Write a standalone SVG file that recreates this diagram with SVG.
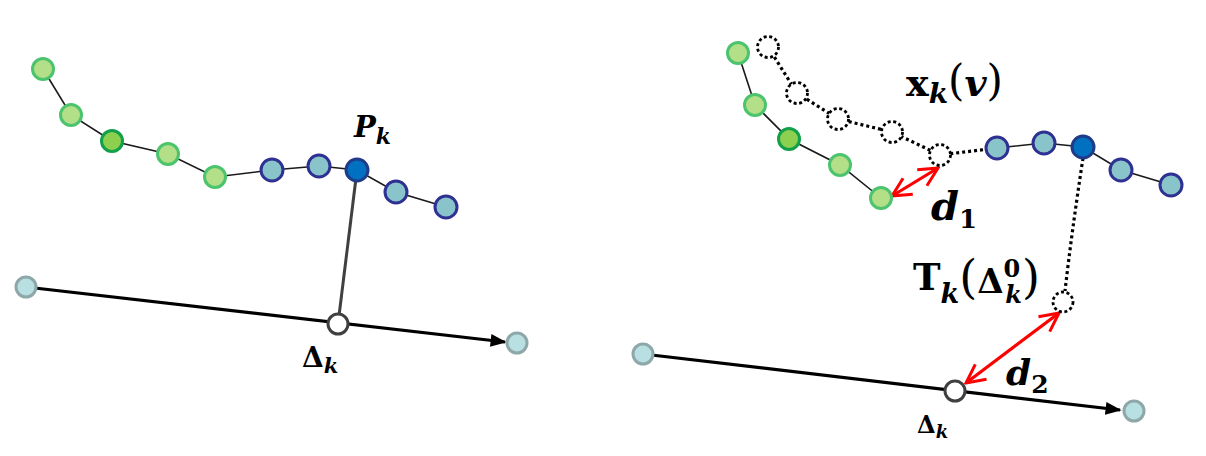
<svg xmlns="http://www.w3.org/2000/svg" width="1206" height="456" viewBox="0 0 1206 456">
<style>
.bg{fill:#ffffff}
.thin{stroke:#1a1a1a;stroke-width:1.6;fill:none}
.axis{stroke:#000;stroke-width:3.2;fill:none}
.perp{stroke:#404040;stroke-width:3;fill:none}
.dot{stroke:#000;stroke-width:3.2;stroke-dasharray:3 3;fill:none}
.red{stroke:#ff0000;stroke-width:3.2;fill:none}
.g{fill:#b3df88;stroke:#4cc46e;stroke-width:3}
.gd{fill:#8dcf4f;stroke:#12a04a;stroke-width:3}
.b{fill:#8ac4cb;stroke:#2e3192;stroke-width:3}
.bd{fill:#0070c0;stroke:#1f3b8a;stroke-width:3}
.end{fill:#b8dfe2;stroke:#8ea8aa;stroke-width:3}
.open{fill:#ffffff;stroke:#404040;stroke-width:3}
.ghost{fill:#ffffff;stroke:#000;stroke-width:2.8;stroke-dasharray:3 2.6}
.m{font-family:'DejaVu Serif','Liberation Serif',serif;font-weight:bold;fill:#000}
.i{font-style:italic}
</style>
<defs>
<marker id="tri" viewBox="0 0 10 10" refX="9" refY="5" markerWidth="5" markerHeight="5" markerUnits="strokeWidth" orient="auto">
<path d="M0,1 L10,5 L0,9 Z" fill="#000"/>
</marker>
<marker id="vee" viewBox="0 0 12 12" refX="11" refY="6" markerWidth="7" markerHeight="7" markerUnits="strokeWidth" orient="auto-start-reverse">
<path d="M1,1 L11,6 L1,11" fill="none" stroke="#ff0000" stroke-width="1.6"/>
</marker>
</defs>
<rect class="bg" x="0" y="0" width="1206" height="456"/>

<g id="connectors">
<polyline class="thin" points="43,69 71,115 112,141 168,154 215,177 272,170 319,166 357,170 396,192 446,207"/>
<line class="axis" x1="26" y1="287" x2="505" y2="342" marker-end="url(#tri)"/>
<line class="perp" x1="357" y1="170" x2="338" y2="324"/>
<polyline class="thin" points="738,53 755,105 789,139 840,165 881,198"/>
<polyline class="dot" points="768,47 797,93 838,119 892,132 940,155 997,148"/>
<polyline class="thin" points="997,148 1044,143 1083,147 1121,170 1171,185"/>
<path class="dot" d="M1083,158 Q1072,230 1065,291"/>
<line class="axis" x1="643" y1="354" x2="1120" y2="410" marker-end="url(#tri)"/>
<line class="red" x1="892" y1="196" x2="938" y2="168" marker-start="url(#vee)" marker-end="url(#vee)"/>
<line class="red" x1="966" y1="383" x2="1059" y2="313" marker-start="url(#vee)" marker-end="url(#vee)"/>
</g>

<g id="left-nodes">
<circle id="L1" class="g" cx="43" cy="69" r="10.5"/>
<circle id="L2" class="g" cx="71" cy="115" r="10.5"/>
<circle id="L3" class="gd" cx="112" cy="141" r="10.5"/>
<circle id="L4" class="g" cx="168" cy="154" r="10.5"/>
<circle id="L5" class="g" cx="215" cy="177" r="10.5"/>
<circle id="L6" class="b" cx="272" cy="170" r="11"/>
<circle id="L7" class="b" cx="319" cy="166" r="11"/>
<circle id="Pk" class="bd" cx="357" cy="170" r="11"/>
<circle id="L9" class="b" cx="396" cy="192" r="11"/>
<circle id="L10" class="b" cx="446" cy="207" r="11"/>
<circle id="La" class="end" cx="26" cy="287" r="10"/>
<circle id="Lb" class="end" cx="517" cy="343" r="10"/>
<circle id="LDelta" class="open" cx="338" cy="324" r="10"/>
</g>

<g id="right-nodes">
<circle id="R1" class="g" cx="738" cy="53" r="10.5"/>
<circle id="R2" class="g" cx="755" cy="105" r="10.5"/>
<circle id="R3" class="gd" cx="789" cy="139" r="10.5"/>
<circle id="R4" class="g" cx="840" cy="165" r="10.5"/>
<circle id="R5" class="g" cx="881" cy="198" r="10.5"/>
<circle id="X1" class="ghost" cx="768" cy="47" r="10.5"/>
<circle id="X2" class="ghost" cx="797" cy="93" r="10.5"/>
<circle id="X3" class="ghost" cx="838" cy="119" r="10.5"/>
<circle id="X4" class="ghost" cx="892" cy="132" r="10.5"/>
<circle id="X5" class="ghost" cx="940" cy="155" r="10.5"/>
<circle id="R6" class="b" cx="997" cy="148" r="11"/>
<circle id="R7" class="b" cx="1044" cy="143" r="11"/>
<circle id="R8" class="bd" cx="1083" cy="147" r="11"/>
<circle id="R9" class="b" cx="1121" cy="170" r="11"/>
<circle id="R10" class="b" cx="1171" cy="185" r="11"/>
<circle id="T" class="ghost" cx="1063" cy="302" r="10"/>
<circle id="Ra" class="end" cx="643" cy="354" r="10"/>
<circle id="Rb" class="end" cx="1134" cy="411" r="10"/>
<circle id="RDelta" class="open" cx="955" cy="391" r="10"/>
</g>

<g id="labels">
<text class="m i" x="354" y="137" font-size="29">P<tspan font-size="22" dy="7">k</tspan></text>
<text class="m" x="302" y="367" font-size="28">Δ<tspan class="i" font-size="21" dy="6">k</tspan></text>
<text class="m" x="906" y="96" font-size="38">x<tspan class="i" font-size="28" dy="7">k</tspan><tspan font-weight="normal" font-size="42" dy="-8">(</tspan><tspan class="i" font-size="38" dy="1">v</tspan><tspan font-weight="normal" font-size="42" dy="-1">)</tspan></text>
<text class="m i" x="931" y="220" font-size="40">d<tspan font-style="normal" font-size="26" dy="8">1</tspan></text>
<text class="m" x="913" y="290" font-size="37">T<tspan class="i" font-size="27" dy="13">k</tspan><tspan font-weight="normal" font-size="46" dy="-10">(</tspan><tspan font-size="34" dy="0">Δ</tspan><tspan font-size="24" dy="-16">0</tspan><tspan class="i" font-size="24" dx="-15" dy="26">k</tspan><tspan font-weight="normal" font-size="46" dy="-10">)</tspan></text>
<text class="m i" x="1006" y="385" font-size="36">d<tspan font-style="normal" font-size="25" dy="8">2</tspan></text>
<text class="m" x="917" y="433" font-size="24">Δ<tspan class="i" font-size="18" dy="5">k</tspan></text>
</g>
</svg>
